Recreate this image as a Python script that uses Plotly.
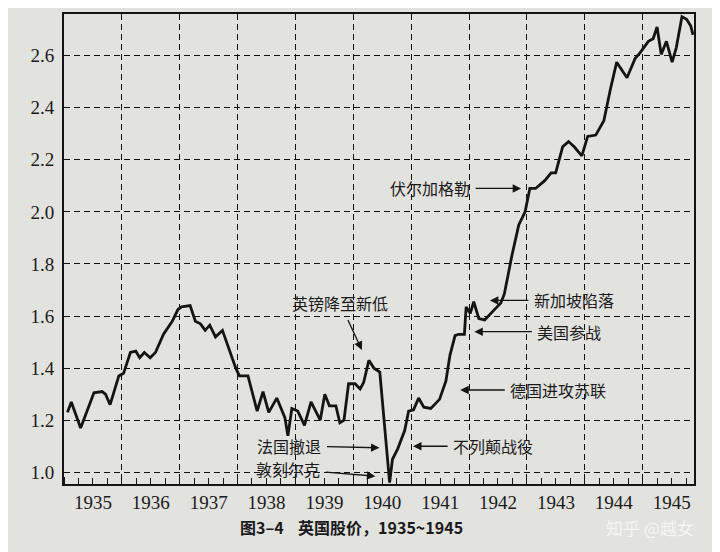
import plotly.graph_objects as go

# ---- data ----
dates = [
    "1935-01-23", "1935-02-16", "1935-04-16", "1935-07-09", "1935-08-29", "1935-09-20", "1935-10-19", "1935-12-13",
    "1936-01-12", "1936-02-24", "1936-03-29", "1936-04-23", "1936-05-22", "1936-06-28", "1936-07-31", "1936-09-20",
    "1936-11-14", "1936-12-20",
    "1937-01-12", "1937-03-07", "1937-04-09", "1937-05-11", "1937-06-10", "1937-07-09", "1937-08-14", "1937-09-27",
    "1937-12-20",
    "1938-01-12", "1938-03-07", "1938-05-04", "1938-06-10", "1938-07-16", "1938-09-05", "1938-10-26", "1938-11-14",
    "1938-12-09",
    "1939-01-15", "1939-02-27", "1939-04-09", "1939-06-06", "1939-07-05", "1939-08-03", "1939-09-13", "1939-10-08",
    "1939-11-03", "1939-12-02",
    "1940-01-12", "1940-02-13", "1940-03-06", "1940-04-08", "1940-05-10", "1940-06-16", "1940-08-17", "1940-09-04",
    "1940-10-07", "1940-11-20", "1940-12-15",
    "1941-01-15", "1941-02-16", "1941-03-21", "1941-05-04", "1941-06-28", "1941-08-07", "1941-09-02", "1941-10-04",
    "1941-10-26", "1941-12-02", "1941-12-13",
    "1942-01-08", "1942-01-30", "1942-03-03", "1942-04-09", "1942-06-02", "1942-07-20", "1942-08-11", "1942-09-27",
    "1942-11-10", "1942-12-20",
    "1943-01-19", "1943-02-24", "1943-04-23", "1943-06-02", "1943-07-01", "1943-08-14", "1943-09-20", "1943-10-26",
    "1943-12-13",
    "1944-01-19", "1944-03-10", "1944-04-30", "1944-06-10", "1944-07-20", "1944-09-23", "1944-11-14", "1944-12-13",
    "1945-02-05", "1945-03-07", "1945-04-01", "1945-04-27", "1945-05-30", "1945-07-05", "1945-07-31", "1945-09-05",
    "1945-10-04", "1945-10-30", "1945-11-14",
]
index_values = [
    1.23, 1.27, 1.17, 1.305, 1.31, 1.30, 1.26, 1.37,
    1.38, 1.46, 1.465, 1.44, 1.46, 1.44, 1.46, 1.53,
    1.58, 1.625,
    1.635, 1.64, 1.58, 1.57, 1.545, 1.565, 1.52, 1.545,
    1.40,
    1.37, 1.37, 1.235, 1.31, 1.23, 1.285, 1.21, 1.14,
    1.245,
    1.235, 1.18, 1.27, 1.20, 1.30, 1.255, 1.255, 1.19,
    1.20, 1.34,
    1.34, 1.32, 1.345, 1.43, 1.40, 1.385, 0.96, 1.05,
    1.09, 1.16, 1.235,
    1.24, 1.285, 1.25, 1.245, 1.28, 1.35, 1.45, 1.525,
    1.53, 1.53, 1.635,
    1.61, 1.655, 1.59, 1.585, 1.62, 1.65, 1.685, 1.83,
    1.95, 2.0,
    2.09, 2.09, 2.12, 2.15, 2.15, 2.25, 2.27, 2.25,
    2.215,
    2.29, 2.295, 2.35, 2.47, 2.575, 2.515, 2.59, 2.61,
    2.655, 2.665, 2.71, 2.605, 2.655, 2.575, 2.63, 2.75,
    2.74, 2.715, 2.68,
]
y_ticks = [1.0, 1.2, 1.4, 1.6, 1.8, 2.0, 2.2, 2.4, 2.6]

# event annotations: (label, tip date, tip value, text offset x, text offset y)
events = [
    ("伏尔加格勒", "1942-11-25", 2.09, -91, 0),
    ("新加坡陷落", "1942-05-12", 1.66, 84, 0),
    ("美国参战", "1942-02-03", 1.54, 95, 0),
    ("德国进攻苏联", "1941-11-06", 1.316, 98, 0),
    ("不列颠战役", "1941-01-12", 1.10, 80, 0),
    ("法国撤退", "1940-06-14", 1.094, -90, -2),
    ("敦刻尔克", "1940-05-19", 0.985, -87, -7),
    ("英镑降至新低", "1940-02-24", 1.47, -22, -47),
]

caption = "图3–4    英国股价，1935~1945"
watermark = "知乎 @越女"

bg = "#e2e2df"
ink = "#141414"
serif = "Liberation Serif"
cjk = "Noto Sans CJK SC"

fig = go.Figure()
fig.add_trace(go.Scatter(
    x=dates, y=index_values, mode="lines",
    line=dict(color=ink, width=2.8),
    showlegend=False, hoverinfo="skip",
))

annotations = []
for label, tx, ty, ax, ay in events:
    annotations.append(dict(
        x=tx, y=ty, xref="x", yref="y",
        text=label, showarrow=True,
        ax=ax, ay=ay, axref="pixel", ayref="pixel",
        arrowhead=2, arrowsize=1.3, arrowwidth=1.3, arrowcolor=ink,
        standoff=0, startstandoff=4,
        font=dict(family=cjk, size=16, color="#1a1a1a"),
    ))

annotations.append(dict(
    x=0.457, y=-0.0915, xref="paper", yref="paper",
    text="<b>" + caption + "</b>", showarrow=False,
    font=dict(family=cjk, size=16, color="#1a1a1a"),
    xanchor="center", yanchor="middle",
))
annotations.append(dict(
    x=0.93, y=-0.093, xref="paper", yref="paper",
    text=watermark, showarrow=False,
    font=dict(family=cjk, size=17, color="rgba(250,250,250,0.85)"),
    xanchor="center", yanchor="middle",
))

grid = dict(showgrid=True, gridcolor="#111111", gridwidth=1.4, griddash="6px,4px")

fig.update_layout(
    template="none",
    width=720, height=552,
    # the page adds an 8px body margin, so the plot box is shifted up/left by 8px here
    margin=dict(l=56, r=34, t=6, b=76),
    paper_bgcolor=bg, plot_bgcolor=bg,
    annotations=annotations,
    xaxis=dict(
        type="date",
        range=["1935-01-01", "1945-11-20"],
        tick0="1935-01-01", dtick="M12",
        ticklabelmode="period", tickformat="%Y",
        **grid,
        showline=True, linecolor=ink, linewidth=1.8, mirror=True,
        ticks="inside", ticklen=7, tickcolor=ink, tickwidth=1.2,
        tickfont=dict(family=serif, size=19, color="#1a1a1a"),
        minor=dict(dtick="M3", ticks="inside", ticklen=6, tickcolor=ink, tickwidth=1.2, showgrid=False),
        zeroline=False,
    ),
    yaxis=dict(
        range=[0.955, 2.76],
        tickvals=y_ticks, tickformat=".1f",
        **grid,
        showline=True, linecolor=ink, linewidth=1.8, mirror=True,
        ticks="", ticklabelstandoff=4,
        tickfont=dict(family=serif, size=19, color="#1a1a1a"),
        zeroline=False,
    ),
)

fig.write_html("out.html")
